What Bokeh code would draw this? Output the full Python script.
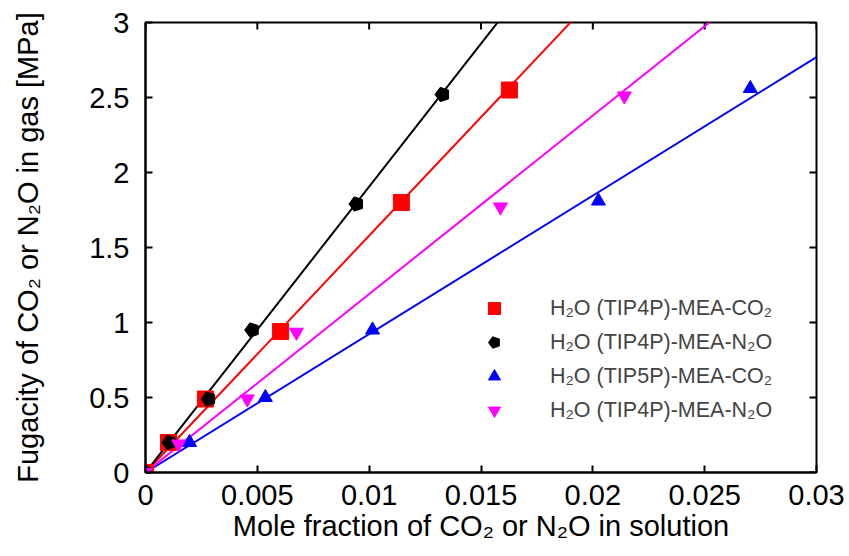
import math
from bokeh.plotting import figure
from bokeh.models import Range1d, FixedTicker, Legend, LegendItem
from bokeh.embed import file_html
from bokeh.resources import INLINE

# ---- data ----
sq_x = [0.0, 0.00103, 0.00268, 0.00604, 0.01144, 0.01627]
sq_y = [0.0, 0.20, 0.49, 0.94, 1.80, 2.55]
pent_x = [0.0, 0.00107, 0.00282, 0.00477, 0.00943, 0.01328]
pent_y = [0.0, 0.20, 0.49, 0.95, 1.79, 2.52]
tri_x = [0.0, 0.00197, 0.00536, 0.01015, 0.02025, 0.02704]
tri_y = [0.0, 0.20, 0.50, 0.95, 1.81, 2.56]
inv_x = [0.0, 0.00148, 0.00455, 0.00675, 0.01587, 0.02141]
inv_y = [0.0, 0.19, 0.49, 0.935, 1.77, 2.51]
# fitted line slopes (MPa per mole fraction)
slopes = {"red": 157.9, "black": 190.6, "blue": 92.3, "magenta": 119.0}
labels = ["H₂O (TIP4P)-MEA-CO₂", "H₂O (TIP4P)-MEA-N₂O",
          "H₂O (TIP5P)-MEA-CO₂", "H₂O (TIP4P)-MEA-N₂O"]
x_ticks = [0, 0.005, 0.01, 0.015, 0.02, 0.025, 0.03]
x_tick_labels = ["0", "0.005", "0.01", "0.015", "0.02", "0.025", "0.03"]
y_ticks = [0, 0.5, 1, 1.5, 2, 2.5, 3]
y_tick_labels = ["0", "0.5", "1", "1.5", "2", "2.5", "3"]

FONT = "Liberation Sans"
X0, X1, Y0, Y1 = 0.0, 0.03, 0.0, 3.0

p = figure(width=849, height=556, output_backend="svg", toolbar_location=None,
           x_range=Range1d(X0, X1), y_range=Range1d(Y0, Y1),
           min_border_left=145, min_border_right=33, min_border_top=22,
           min_border_bottom=84)
p.grid.visible = False
p.outline_line_color = "black"
p.outline_line_width = 2

def style_axis(ax, ticks, tick_labels):
    ax.ticker = FixedTicker(ticks=ticks)
    ax.major_label_overrides = {t: l for t, l in zip(ticks, tick_labels)}
    ax.major_tick_in = 7
    ax.major_tick_out = 0
    ax.minor_tick_line_color = None
    ax.axis_line_width = 2
    ax.major_tick_line_width = 2
    ax.major_label_text_font = FONT
    ax.major_label_text_font_size = "29px"
    ax.major_label_text_color = "black"
    ax.axis_label_text_font = FONT
    ax.axis_label_text_font_size = "29px"
    ax.axis_label_text_font_style = "normal"
    ax.axis_label_text_color = "black"

xa = p.xaxis[0]
ya = p.yaxis[0]
style_axis(xa, x_ticks, x_tick_labels)
style_axis(ya, y_ticks, y_tick_labels)
xa.axis_label = "Mole fraction of CO₂ or N₂O in solution"
ya.axis_label = "Fugacity of CO₂ or N₂O in gas [MPa]"
xa.major_label_standoff = 12
ya.major_label_standoff = 16
xa.axis_label_standoff = 2
ya.axis_label_standoff = 42

# mirrored ticks on top and right border
p.ray(x=x_ticks, y=[Y1] * len(x_ticks), length=7, length_units="screen",
      angle=-math.pi / 2, line_color="black", line_width=2)
p.ray(x=[X1] * len(y_ticks), y=y_ticks, length=7, length_units="screen",
      angle=math.pi, line_color="black", line_width=2)

# fit lines
lx = [X0, X1]
for c in ["red", "black", "blue", "magenta"]:
    p.line(lx, [0.0, X1 * slopes[c]], line_color=c, line_width=2)

r1 = p.scatter(sq_x, sq_y, marker="square", size=16, color="red")
r2 = p.ngon(pent_x, pent_y, radius=7.5, radius_units="screen", n=5,
            angle=math.pi / 2, fill_color="black", line_color="black")
r3 = p.scatter(tri_x, tri_y, marker="triangle", size=14, color="blue")
r4 = p.scatter(inv_x, inv_y, marker="inverted_triangle", size=14, color="magenta")

legend = Legend(items=[LegendItem(label=labels[0], renderers=[r1]),
                       LegendItem(label=labels[1], renderers=[r2]),
                       LegendItem(label=labels[2], renderers=[r3]),
                       LegendItem(label=labels[3], renderers=[r4])],
                location=(334, 47))
legend.border_line_color = None
legend.background_fill_alpha = 0
legend.padding = 0
legend.margin = 0
legend.spacing = 4
legend.glyph_width = 30
legend.glyph_height = 30
legend.label_height = 30
legend.label_standoff = 41
legend.label_text_font = FONT
legend.label_text_font_size = "21.5px"
legend.label_text_baseline = "middle"
p.add_layout(legend, "center")

open("out.html", "w").write(file_html(p, INLINE))
